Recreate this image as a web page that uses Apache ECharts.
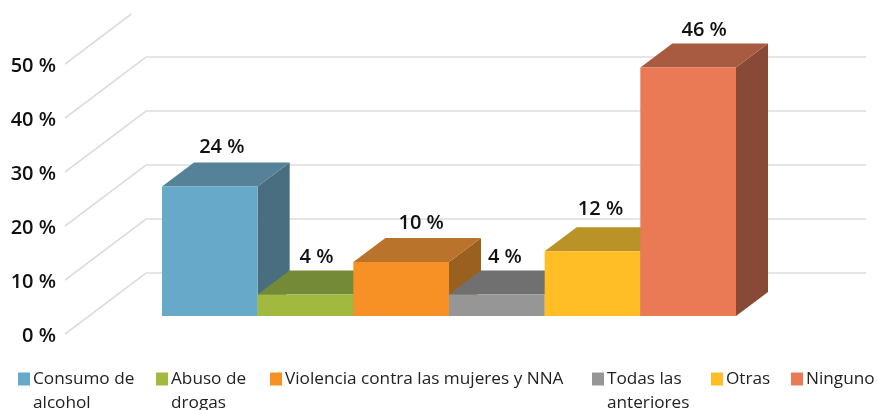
<!DOCTYPE html>
<html><head><meta charset="utf-8">
<script src="https://cdn.jsdelivr.net/npm/echarts@6/dist/echarts.min.js"></script>
<style>html,body{margin:0;padding:0;background:#fff}#c{width:878px;height:410px}</style>
</head><body><div id="c"></div>
<script>
const categories = ['Consumo de alcohol','Abuso de drogas','Violencia contra las mujeres y NNA','Todas las anteriores','Otras','Ninguno'];
const values = [24, 4, 10, 4, 12, 46];
const gridTicks = [0, 10, 20, 30, 40, 50];
const legendLine1 = ['Consumo de','Abuso de','Violencia contra las mujeres y NNA','Todas las','Otras','Ninguno'];
const legendLine2 = ['alcohol','drogas',' ','anteriores',' ',' '];
const frontColors = ['#67A9C8','#A2B93F','#F79125','#969696','#FFBE26','#E97A55'];
const topColors = ['#558199','#748A37','#B9732A','#707070','#BA9228','#A95B41'];
const sideColors = ['#486E80','#627530','#996020','#5E5E5E','#997A20','#884A36'];

const legendLefts = [18, 156, 270, 592, 711, 791];
const labelNudgeX = [12, 11, 20, 8, 8, 16];
const labelNudgeY = [15, 13, 15, 13, 18, 13.5];
const FONT = '"Open Sans"';
const DX = 32, DY = 24;                 // bar depth in pixels
const WALL = {frontX: 65, backX: 146, rightX: 866, frontDy: 18, backDy: -43, clipTop: 14};

function bar3d(i) {
  return function (params, api) {
    const p = api.coord([api.value(0), api.value(1)]);
    const base = api.coord([api.value(0), 0]);
    const w = api.size([1, 0])[0];
    const l = p[0] - w / 2, r = p[0] + w / 2, t = p[1], b = base[1];
    return {type: 'group', children: [
      {type: 'polygon', shape: {points: [[r,t],[r+DX,t-DY],[r+DX,b-DY],[r,b]]}, style: {fill: sideColors[i]}},
      {type: 'polygon', shape: {points: [[l,t],[l+DX,t-DY],[r+DX,t-DY],[r,t]]}, style: {fill: topColors[i]}},
      {type: 'rect', shape: {x: l, y: t, width: r - l, height: b - t}, style: {fill: frontColors[i]}},
      {type: 'text', style: {text: api.value(1) + ' %', x: p[0] + labelNudgeX[i], y: t - DY - labelNudgeY[i], align: 'center', verticalAlign: 'middle',
        font: '600 20px ' + FONT, fill: '#111'}}
    ]};
  };
}
function gridRender(params, api) {
  const y = api.coord([0, api.value(0)])[1];
  const yF = y + WALL.frontDy, yB = y + WALL.backDy;
  let endX = WALL.backX, endY = yB;
  if (yB < WALL.clipTop) {
    const f = (yF - WALL.clipTop) / (yF - yB);
    endX = WALL.frontX + f * (WALL.backX - WALL.frontX); endY = WALL.clipTop;
  }
  const pts = [[WALL.frontX, yF], [endX, endY]];
  if (yB >= WALL.clipTop) pts.push([WALL.rightX, yB]);
  return {type: 'polyline', shape: {points: pts}, style: {stroke: '#DDDDDD', lineWidth: 1.6, fill: 'none'}};
}

const series = [{
  type: 'custom', name: '__walls', silent: true, xAxisIndex: 0, yAxisIndex: 0, clip: false,
  renderItem: gridRender, encode: {y: 0}, data: gridTicks.map(v => [v]), z: 1
}];
categories.forEach((c, i) => series.push({
  type: 'custom', name: c, xAxisIndex: 0, yAxisIndex: 0, clip: false, z: 2 + i,
  itemStyle: {color: frontColors[i]},
  renderItem: bar3d(i), encode: {x: 0, y: 1}, data: [[i, values[i]]]
}));

const legends = categories.map((c, i) => ({
  data: [c], left: legendLefts[i], top: 343, padding: 0, orient: 'horizontal',
  selectedMode: false, icon: 'rect', itemWidth: 12, itemHeight: 13,
  formatter: () => '\n' + legendLine1[i] + '\n' + legendLine2[i],
  textStyle: {fontFamily: FONT, fontSize: 17.2, lineHeight: 24, color: '#222', padding: [0, 0, 0, -2]}
}));

const chart = echarts.init(document.getElementById('c'), null, {renderer: 'canvas'});
chart.setOption({
  animation: false,
  backgroundColor: '#fff',
  grid: [
    {left: 162, width: 574, top: 46, bottom: 94},
    {left: 65, right: 12, top: 66, bottom: 74}
  ],
  xAxis: [
    {type: 'category', data: categories, show: false, gridIndex: 0},
    {type: 'value', show: false, gridIndex: 1, min: 0, max: 1}
  ],
  yAxis: [
    {type: 'value', min: 0, max: 50, interval: 10, show: false, gridIndex: 0},
    {type: 'value', min: 0, max: 50, interval: 10, gridIndex: 1, position: 'left',
     axisLine: {show: false}, axisTick: {show: false}, splitLine: {show: false},
     axisLabel: {margin: 9, formatter: '{value} %', fontFamily: FONT, fontSize: 20, fontWeight: 600, color: '#111'}}
  ],
  legend: legends,
  series: series
});
</script></body></html>
